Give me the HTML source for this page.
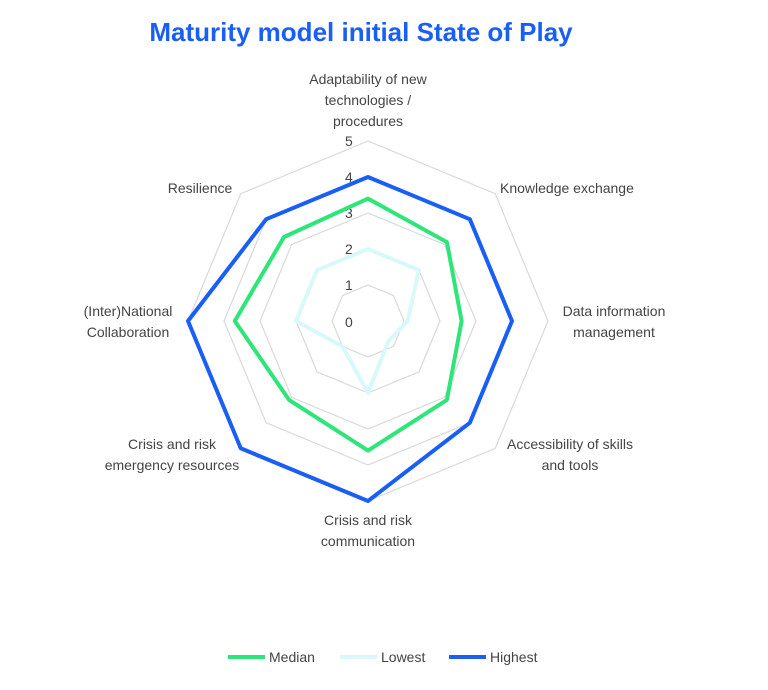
<!DOCTYPE html>
<html><head><meta charset="utf-8"><style>
body{margin:0;background:#fff;font-family:"Liberation Sans",sans-serif;}
svg text{font-family:"Liberation Sans",sans-serif;}
</style></head><body>
<svg id="chart" width="768" height="685" xmlns="http://www.w3.org/2000/svg">
<text x="361" y="41" text-anchor="middle" font-size="26" font-weight="bold" fill="#1a5ff5">Maturity model initial State of Play</text>
<g id="grid"></g><g id="series"></g><g id="labels"></g>
<g id="legend">
<line x1="228" y1="657" x2="265" y2="657" stroke="#2ee57a" stroke-width="4"/>
<text x="269" y="662" font-size="14" fill="#444">Median</text>
<line x1="340" y1="657" x2="377" y2="657" stroke="#d8f8fb" stroke-width="4"/>
<text x="381" y="662" font-size="14" fill="#444">Lowest</text>
<line x1="449" y1="657" x2="486" y2="657" stroke="#1a5ff5" stroke-width="4"/>
<text x="490" y="662" font-size="14" fill="#444">Highest</text>
</g>
</svg>
<script>
const categories=["Adaptability of new|technologies /|procedures","Knowledge exchange","Data information|management","Accessibility of skills|and tools","Crisis and risk|communication","Crisis and risk|emergency resources","(Inter)National|Collaboration","Resilience"];
const median=[3.4,3.1,2.6,3.1,3.6,3.1,3.7,3.3];
const lowest=[2,2,1.1,0.8,2,1,2,2];
const highest=[4,4,4,4,5,5,5,4];
const ticks=[0,1,2,3,4,5];
const cx=368,cy=321,R=180,maxV=5;
const ns="http://www.w3.org/2000/svg";
function pt(i,v){const a=-Math.PI/2+i*2*Math.PI/categories.length;const r=v/maxV*R;return [cx+r*Math.cos(a),cy+r*Math.sin(a)];}
const grid=document.getElementById('grid');
ticks.forEach(t=>{if(t===0)return;const p=document.createElementNS(ns,'polygon');


p.setAttribute('points',categories.map((c,i)=>pt(i,t).join(',')).join(' '));
p.setAttribute('fill','none');p.setAttribute('stroke','#d9d9d9');p.setAttribute('stroke-width','1.2');grid.appendChild(p);
const tx=document.createElementNS(ns,'text');


tx.setAttribute('x',cx-23);tx.setAttribute('y',cy-t/maxV*R+5);tx.setAttribute('font-size','14');tx.setAttribute('fill','#444');tx.textContent=t;grid.appendChild(tx);});
const t0=document.createElementNS(ns,'text');


t0.setAttribute('x',cx-23);t0.setAttribute('y',cy+6);t0.setAttribute('font-size','14');t0.setAttribute('fill','#444');t0.textContent=ticks[0];grid.appendChild(t0);
const sg=document.getElementById('series');
[[lowest,'#d8f8fb','lowest'],[median,'#2ee57a','median'],[highest,'#1a5ff5','highest']].forEach(([d,col,n])=>{
const p=document.createElementNS(ns,'polygon');


p.setAttribute('points',d.map((v,i)=>pt(i,v).join(',')).join(' '));
p.setAttribute('fill','none');p.setAttribute('stroke',col);p.setAttribute('stroke-width','4');p.setAttribute('stroke-linejoin','round');sg.appendChild(p);});
const lg=document.getElementById('labels');
const lpos=[[368,84,'middle'],[500,193,'start'],[614,316,'middle'],[570,449,'middle'],[368,525,'middle'],[172,449,'middle'],[128,316,'middle'],[200,193,'middle']];
categories.forEach((c,i)=>{const lines=c.split('|');const [x,y,anc]=lpos[i];
const t=document.createElementNS(ns,'text');


t.setAttribute('text-anchor',anc);t.setAttribute('font-size','14');t.setAttribute('fill','#444');
lines.forEach((l,j)=>{const s=document.createElementNS(ns,'tspan');s.setAttribute('x',x);s.setAttribute('y',y+j*21);s.textContent=l;t.appendChild(s);});
lg.appendChild(t);});
</script>
</body></html>
